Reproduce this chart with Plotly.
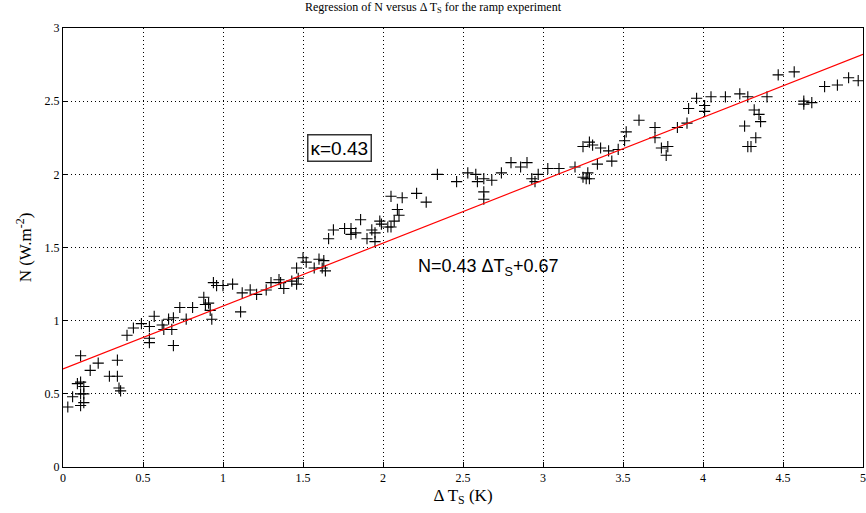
import plotly.graph_objects as go
import numpy as np

# Surface warming (K) and net TOA flux N (W m-2) for the ramp experiment
delta_ts = [
    0.03, 0.06, 0.11, 0.09, 0.11, 0.13, 0.11, 0.13, 0.11, 0.13,
    0.17, 0.22, 0.29, 0.34, 0.34, 0.35, 0.36, 0.40, 0.44, 0.49,
    0.54, 0.57, 0.54, 0.54, 0.62, 0.63, 0.68, 0.66, 0.69, 0.69,
    0.73, 0.77, 0.81, 0.88, 0.89, 0.91, 0.92, 0.93, 0.94, 0.96,
    1.00, 1.06, 1.12, 1.11, 1.17, 1.21, 1.27, 1.30, 1.35, 1.36,
    1.38, 1.43, 1.46, 1.47, 1.46, 1.50, 1.52, 1.57, 1.60, 1.63,
    1.62, 1.64, 1.66, 1.69, 1.76, 1.80, 1.80, 1.83, 1.86, 1.90,
    1.93, 1.95, 1.95, 1.98, 1.99, 2.03, 2.05, 2.07, 2.05, 2.09,
    2.10, 2.12, 2.21, 2.27, 2.34, 2.46, 2.53, 2.58, 2.59, 2.63,
    2.68, 2.63, 2.63, 2.74, 2.80, 2.86, 2.90, 2.93, 2.95, 2.97,
    3.03, 3.10, 3.20, 3.25, 3.27, 3.29, 3.28, 3.25, 3.29, 3.31,
    3.36, 3.34, 3.41, 3.43, 3.47, 3.52, 3.51, 3.60, 3.70, 3.70,
    3.74, 3.78, 3.77, 3.84, 3.90, 3.91, 3.96, 4.01, 4.01, 4.05,
    4.14, 4.23, 4.28, 4.40, 4.32, 4.35, 4.36, 4.26, 4.33, 4.28,
    4.30, 4.47, 4.57, 4.63, 4.63, 4.68, 4.76, 4.84, 4.91, 4.97,
]
net_flux = [
    0.41, 0.48, 0.76, 0.57, 0.58, 0.55, 0.50, 0.50, 0.42, 0.44,
    0.66, 0.71, 0.62, 0.62, 0.73, 0.54, 0.52, 0.90, 0.95, 0.98,
    0.96, 1.03, 0.88, 0.85, 0.97, 0.94, 0.94, 1.01, 1.02, 0.83,
    1.09, 1.01, 1.09, 1.16, 1.11, 1.12, 1.07, 1.01, 1.26, 1.24,
    1.24, 1.25, 1.19, 1.06, 1.21, 1.18, 1.21, 1.26, 1.28, 1.26,
    1.22, 1.27, 1.25, 1.29, 1.36, 1.43, 1.40, 1.36, 1.42, 1.41,
    1.36, 1.34, 1.56, 1.62, 1.63, 1.63, 1.59, 1.60, 1.69, 1.56,
    1.62, 1.60, 1.54, 1.68, 1.66, 1.64, 1.64, 1.68, 1.85, 1.76,
    1.72, 1.84, 1.87, 1.81, 2.00, 1.95, 2.01, 2.00, 1.95, 1.97,
    1.96, 1.88, 1.83, 2.01, 2.08, 2.05, 2.08, 1.97, 1.95, 2.00,
    2.04, 2.04, 2.05, 1.98, 1.97, 1.97, 2.01, 2.19, 2.22, 2.20,
    2.18, 2.07, 2.16, 2.09, 2.17, 2.29, 2.23, 2.37, 2.32, 2.25,
    2.18, 2.19, 2.13, 2.32, 2.35, 2.45, 2.52, 2.47, 2.43, 2.53,
    2.53, 2.55, 2.53, 2.53, 2.44, 2.41, 2.36, 2.33, 2.25, 2.19,
    2.19, 2.68, 2.70, 2.50, 2.48, 2.49, 2.60, 2.61, 2.66, 2.64,
]

# Least-squares fit reported on the chart
slope = 0.43
intercept = 0.67
fit_x = [0.0, 5.0]

x_ticks = [0, 0.5, 1, 1.5, 2, 2.5, 3, 3.5, 4, 4.5, 5]
y_ticks = [0, 0.5, 1, 1.5, 2, 2.5, 3]

fit_y = [slope * v + intercept for v in fit_x]

fig = go.Figure()
fig.add_trace(go.Scatter(
    x=delta_ts, y=net_flux, mode="markers",
    marker=dict(symbol="cross-thin", size=8, line=dict(color="black", width=1.1)),
    showlegend=False, cliponaxis=False,
))
fig.add_trace(go.Scatter(
    x=fit_x, y=fit_y, mode="lines",
    line=dict(color="#ff0000", width=1.2), showlegend=False,
))

axis_common = dict(
    showgrid=True, gridcolor="black", griddash="1px,3px", gridwidth=1,
    showline=True, linecolor="black", linewidth=1, mirror=True,
    ticks="inside", ticklen=5, tickcolor="black", zeroline=False,
    tickfont=dict(family="Liberation Serif", size=12, color="black"),
    ticklabeloverflow="allow",
)

fig.update_xaxes(
    range=[0, 5], tickvals=x_ticks, ticktext=[f"{t:g}" for t in x_ticks],
    title=dict(text="Δ T<sub>S</sub> (K)", font=dict(family="Liberation Serif", size=17, color="black"), standoff=4),
    **axis_common,
)
fig.update_yaxes(
    range=[0, 3], tickvals=y_ticks, ticktext=[f"{t:g}" for t in y_ticks],
    title=dict(text="N (W.m<sup>-2</sup>)", font=dict(family="Liberation Serif", size=17, color="black"), standoff=8),
    **axis_common,
)

fig.add_annotation(
    x=1.727, y=2.18, xref="x", yref="y", text="κ=0.43", showarrow=False,
    font=dict(family="Liberation Sans", size=19, color="black"),
    bordercolor="#333333", borderwidth=1.5, borderpad=2, bgcolor="white",
)
fig.add_annotation(
    x=2.66, y=1.36, xref="x", yref="y", text="N=0.43 ΔT<sub>S</sub>+0.67", showarrow=False,
    font=dict(family="Liberation Sans", size=18, color="black"),
)

fig.update_layout(
    width=866, height=513,
    margin=dict(l=63, r=0, t=28, b=46),
    paper_bgcolor="white", plot_bgcolor="white",
    title=dict(
        text="Regression of N versus Δ T<sub>S</sub> for the ramp experiment",
        font=dict(family="Liberation Serif", size=12, color="black"),
        x=0.5, xanchor="center", y=0.995, yanchor="top",
    ),
)

fig.write_html("out.html")
